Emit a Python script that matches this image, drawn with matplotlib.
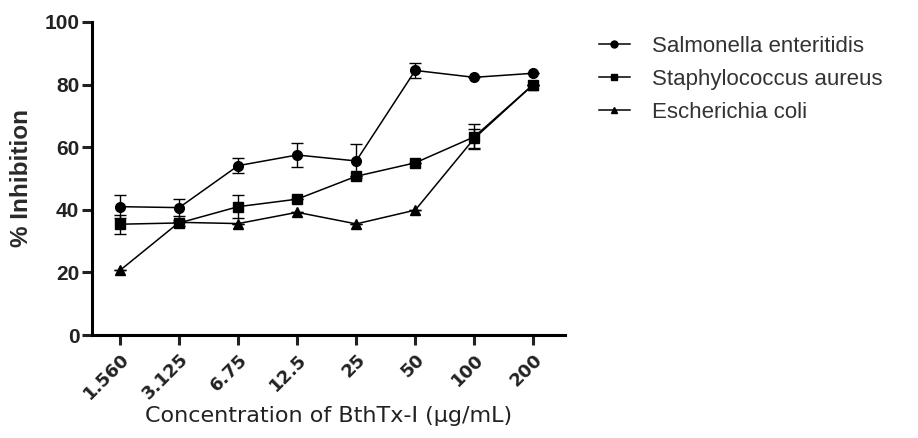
import matplotlib.pyplot as plt
from matplotlib.lines import Line2D

# data
conc_labels = ['1.560', '3.125', '6.75', '12.5', '25', '50', '100', '200']
salmonella = [41.0, 40.7, 54.1, 57.5, 55.6, 84.5, 82.3, 83.6]
salmonella_err = [3.7, 2.8, 2.3, 3.8, 5.5, 2.3, 0, 0]
staph = [35.4, 35.8, 41.0, 43.4, 50.7, 55.0, 63.3, 80.0]
staph_err = [3.0, 1.0, 3.7, 0, 0, 0, 4.0, 0]
ecoli = [20.7, 36.0, 35.6, 39.2, 35.5, 39.9, 62.8, 80.0]
ecoli_err = [0, 0, 0, 0, 0, 0, 3.0, 0]
series_names = ['Salmonella enteritidis', 'Staphylococcus aureus', 'Escherichia coli']

fig = plt.figure(figsize=(9.18, 4.38), dpi=100)
ax = fig.add_axes([0.1, 0.235, 0.515, 0.715])

x = list(range(len(conc_labels)))
common = dict(color='black', lw=1.1, capsize=4, elinewidth=1.0, capthick=1.0)
ax.errorbar(x, salmonella, yerr=salmonella_err, marker='o', ms=7, **common)
ax.errorbar(x, staph, yerr=staph_err, marker='s', ms=7, **common)
ax.errorbar(x, ecoli, yerr=ecoli_err, marker='^', ms=6.5, **common)

ax.set_xlim(-0.48, 7.53)
ax.set_ylim(0, 100)
ax.set_yticks([0, 20, 40, 60, 80, 100])
ax.set_xticks(x)
ax.set_xticklabels(conc_labels, rotation=45, ha='right', rotation_mode='anchor',
                   fontsize=13, fontweight='bold', family='DejaVu Sans', color='#222222')
for lab in ax.get_yticklabels():
    lab.set_fontsize(15)
    lab.set_fontweight('bold')
    lab.set_family('Liberation Sans')
    lab.set_color('#222222')

for s in ['top', 'right']:
    ax.spines[s].set_visible(False)
for s in ['left', 'bottom']:
    ax.spines[s].set_linewidth(2.2)
ax.tick_params(axis='both', width=2.2, length=7, direction='out', colors='#222222')
ax.tick_params(axis='x', pad=4)
ax.tick_params(axis='y', pad=2)

ax.set_ylabel('% Inhibition', fontsize=17.5, fontweight='bold', family='Liberation Sans',
              color='#2a2a2a', labelpad=8)
ax.set_xlabel('Concentration of BthTx-I (µg/mL)', fontsize=16, family='DejaVu Sans',
              color='#222222', labelpad=2)

handles = [Line2D([], [], color='black', lw=1.1, marker=m, ms=s)
           for m, s in zip(['o', 's', '^'], [5, 5, 5])]
leg = ax.legend(handles, series_names, loc='upper left', bbox_to_anchor=(1.03, 1.02),
                frameon=False, prop={'family': 'Liberation Sans', 'size': 16},
                handlelength=1.4, handletextpad=1.0, labelspacing=0.55)
for t in leg.get_texts():
    t.set_color('#333333')

fig.savefig('out.png', dpi=100)
